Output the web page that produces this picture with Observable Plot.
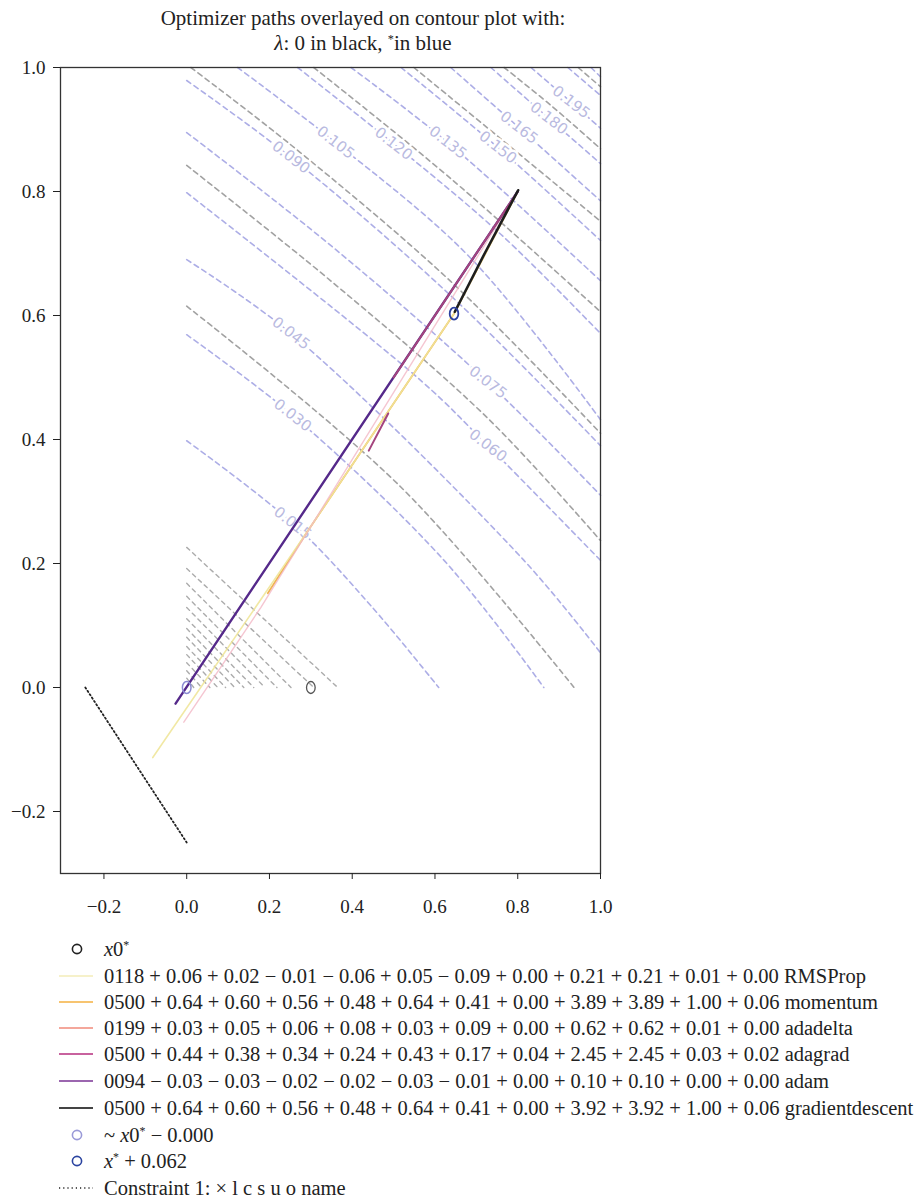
<!DOCTYPE html>
<html>
<head>
<meta charset="utf-8">
<script src="https://cdn.jsdelivr.net/npm/d3@7"></script>
<script src="https://cdn.jsdelivr.net/npm/@observablehq/plot@0.6"></script>
<style>
  body { margin: 0; background: #fff; }
  #wrap { position: relative; width: 924px; height: 1200px; font-family: "Liberation Serif", "DejaVu Serif", serif; color: #222; }
  #title { position: absolute; left: 0; top: 6px; width: 726px; text-align: center; font-size: 21px; line-height: 25px; }
  #chart { position: absolute; left: 0; top: 57px; }
  .row { position: absolute; left: 0; width: 924px; height: 26px; }
  .row svg { position: absolute; left: 0; top: 0; }
  .row span { position: absolute; left: 104px; top: 0; line-height: 26px; font-size: 20.5px; white-space: nowrap; }
  sup { font-size: 58%; vertical-align: 0.55em; line-height: 0; }
</style>
</head>
<body>
<div id="wrap">
  <div id="title">Optimizer paths overlayed on contour plot with:<br><i>λ</i>: 0 in black, <sup>*</sup>in blue</div>
  <div id="chart"></div>
  <div id="legend"></div>
</div>
<script>
// ---- axes ----
const xTicks = [-0.2, 0.0, 0.2, 0.4, 0.6, 0.8, 1.0];
const yTicks = [-0.2, 0.0, 0.2, 0.4, 0.6, 0.8, 1.0];

// ---- blue contours (lambda*) : polyline points ----
const blueLevels = [0.015, 0.030, 0.045, 0.060, 0.075, 0.090, 0.105, 0.120, 0.135, 0.150, 0.165, 0.180, 0.195, 0.210, 0.225];
const bluePaths = [
  [[0, 0.398], [0.256, 0.265], [0.445, 0.132], [0.609, 0]],
  [[0, 0.569], [0.256, 0.439], [0.622, 0.205], [0.863, 0]],
  [[0, 0.690], [0.252, 0.571], [0.815, 0.205], [1.0, 0.056]],
  [[0, 0.798], [0.566, 0.495], [0.728, 0.390], [1.0, 0.205]],
  [[0, 0.895], [0.348, 0.713], [0.728, 0.492], [1.0, 0.310]],
  [[0, 0.979], [0.252, 0.855], [0.638, 0.632], [1.0, 0.390]],
  [[0.123, 1.0], [0.360, 0.879], [0.687, 0.692], [1.0, 0.432]],
  [[0.268, 1.0], [0.500, 0.877], [0.759, 0.731], [1.0, 0.571]],
  [[0.397, 1.0], [0.631, 0.879], [1.0, 0.656]],
  [[0.518, 1.0], [0.752, 0.871], [1.0, 0.721]],
  [[0.638, 1.0], [0.803, 0.903], [1.0, 0.785]],
  [[0.735, 1.0], [0.875, 0.918], [1.0, 0.845]],
  [[0.832, 1.0], [0.929, 0.944], [1.0, 0.902]],
  [[0.921, 1.0], [1.0, 0.955]],
  [[0.977, 1.0], [1.0, 0.985]]
];
// contour labels (level, position)
const labelLevels = ["0.015", "0.030", "0.045", "0.060", "0.075", "0.090", "0.105", "0.120", "0.135", "0.150", "0.165", "0.180", "0.195"];
const labelX = [0.256, 0.256, 0.252, 0.728, 0.728, 0.252, 0.360, 0.500, 0.631, 0.752, 0.803, 0.875, 0.929];
const labelY = [0.265, 0.439, 0.571, 0.390, 0.492, 0.855, 0.879, 0.877, 0.879, 0.871, 0.903, 0.918, 0.944];

// ---- gray contours (lambda = 0) ----
const grayPaths = [
  [[0.010, 1.0], [0.252, 0.875], [0.638, 0.655], [1.0, 0.410]],
  [[0, 0.842], [0.348, 0.656], [0.728, 0.434], [1.0, 0.237]],
  [[0, 0.615], [0.518, 0.323], [0.936, 0]],
  [[0.307, 1.0], [0.638, 0.821], [1.0, 0.606]],
  [[0.549, 1.0], [0.759, 0.885], [1.0, 0.752]],
  [[0.767, 1.0], [0.880, 0.939], [1.0, 0.869]],
  [[0.946, 1.0], [1.0, 0.969]]
];
// dense gray contours near the origin: start on x = 0, end on y = 0
const triStartY = [0.226, 0.192, 0.168, 0.147, 0.129, 0.111, 0.095, 0.081, 0.066, 0.053, 0.040, 0.027, 0.015];
const triEndX   = [0.365, 0.307, 0.252, 0.218, 0.189, 0.162, 0.138, 0.116, 0.094, 0.075, 0.056, 0.036, 0.017];

// ---- optimizer paths ----
const optimizers = ["RMSProp", "momentum", "adadelta", "adagrad", "adam", "gradientdescent"];
const optColors  = ["#f3ecb8", "#f4b040", "#f08a7a", "#c8629e", "#7a3394", "#444444"];
const iterations = ["0118", "0500", "0199", "0500", "0094", "0500"];
const stats = [
  [0.06, 0.02, -0.01, -0.06, 0.05, -0.09, 0.00, 0.21, 0.21, 0.01, 0.00],
  [0.64, 0.60, 0.56, 0.48, 0.64, 0.41, 0.00, 3.89, 3.89, 1.00, 0.06],
  [0.03, 0.05, 0.06, 0.08, 0.03, 0.09, 0.00, 0.62, 0.62, 0.01, 0.00],
  [0.44, 0.38, 0.34, 0.24, 0.43, 0.17, 0.04, 2.45, 2.45, 0.03, 0.02],
  [-0.03, -0.03, -0.02, -0.02, -0.03, -0.01, 0.00, 0.10, 0.10, 0.00, 0.00],
  [0.64, 0.60, 0.56, 0.48, 0.64, 0.41, 0.00, 3.92, 3.92, 1.00, 0.06]
];
const pathRMSProp  = [[0.80, 0.80], [0.646, 0.603], [0.293, 0.253], [-0.082, -0.113]];
const pathMomentum = [[0.80, 0.80], [0.646, 0.603], [0.293, 0.253], [0.196, 0.152]];
const pathAdadelta = [[0.80, 0.80], [0.179, 0.129], [-0.007, -0.056]];
const pathAdagrad  = [[0.80, 0.80], [0.50, 0.50]];
const pathAdagradEnd = [[0.487, 0.442], [0.44, 0.382]];
const pathAdam     = [[0.80, 0.80], [-0.027, -0.026]];
const pathGD       = [[0.801, 0.802], [0.72, 0.70], [0.648, 0.606]];

// ---- points ----
const x0Star = [0.30, 0.0];
const x0Approx = [0.0, 0.0];
const xStar = [0.646, 0.603];
const constraintLine = [[-0.245, 0.0], [0.0, -0.25]];

// ---- build tables ----
const toRows = (paths) => paths.flatMap((p, i) => p.map(([x, y]) => ({x, y, id: i})));
const blueRows = toRows(bluePaths);
const grayRows = toRows(grayPaths);
const triRows = triStartY.flatMap((y0, i) => [{x: 0, y: y0, id: i}, {x: triEndX[i], y: 0, id: i}]);
const labels = labelLevels.map((t, i) => ({t, x: labelX[i], y: labelY[i]}));
const pt = ([x, y]) => ({x, y});

const ellipse = {
  draw(ctx, size) {
    const r = Math.sqrt(size / Math.PI), rx = r * 0.72, ry = r, k = 0.5523;
    ctx.moveTo(rx, 0);
    ctx.bezierCurveTo(rx, ry * k, rx * k, ry, 0, ry);
    ctx.bezierCurveTo(-rx * k, ry, -rx, ry * k, -rx, 0);
    ctx.bezierCurveTo(-rx, -ry * k, -rx * k, -ry, 0, -ry);
    ctx.bezierCurveTo(rx * k, -ry, rx, -ry * k, rx, 0);
    ctx.closePath();
  }
};

const fmt = d3.format(".1f");
const pathLine = (p, color, w, op = 1) => Plot.line(p.map(pt), {x: "x", y: "y", stroke: color, strokeWidth: w, strokeOpacity: op});

const chart = Plot.plot({
  width: 924,
  height: 870,
  marginLeft: 60,
  marginRight: 324,
  marginTop: 10,
  marginBottom: 54,
  style: {fontFamily: "'Liberation Serif', serif", color: "#222", background: "white"},
  x: {domain: [-0.305, 1.0]},
  y: {domain: [-0.3, 1.0]},
  marks: [
    Plot.line(grayRows, {x: "x", y: "y", z: "id", stroke: "#a2a2a2", strokeWidth: 1.6, strokeDasharray: "5,4", curve: "catmull-rom"}),
    Plot.line(triRows, {x: "x", y: "y", z: "id", stroke: "#acacac", strokeWidth: 1.4, strokeDasharray: "4,4"}),
    Plot.line(blueRows, {x: "x", y: "y", z: "id", stroke: "#adaee6", strokeWidth: 1.6, strokeDasharray: "5,4", curve: "catmull-rom"}),
    Plot.text(labels, {x: "x", y: "y", text: "t", rotate: 38, fill: "#b9badf", stroke: "white", strokeWidth: 5, fontSize: 15, fontFamily: "'DejaVu Sans', sans-serif"}),
    Plot.line(constraintLine.map(pt), {x: "x", y: "y", stroke: "#222", strokeWidth: 1.8, strokeDasharray: "1.4,2.6"}),
    pathLine(pathMomentum, "#f0b450", 1.8),
    pathLine(pathRMSProp, "#efe69a", 1.6, 0.9),
    pathLine(pathAdadelta, "#f2b8c6", 1.4, 0.8),
    pathLine(pathAdam, "#55298a", 2.4),
    pathLine(pathAdagrad, "#a5457e", 2.0),
    pathLine(pathAdagradEnd, "#a5457e", 2.0),
    pathLine(pathGD, "#1e1e1e", 2.6),
    Plot.dot([pt(x0Star)], {x: "x", y: "y", r: 6, symbol: ellipse, stroke: "#555", strokeWidth: 1.3, fill: "none"}),
    Plot.dot([pt(x0Approx)], {x: "x", y: "y", r: 6, symbol: ellipse, stroke: "#8b8bd2", strokeWidth: 1.5, fill: "none"}),
    Plot.dot([pt(xStar)], {x: "x", y: "y", r: 6, symbol: ellipse, stroke: "#2b3f9e", strokeWidth: 1.8, fill: "none"}),
    Plot.frame({stroke: "#333", strokeWidth: 1.3}),
    Plot.axisX({ticks: xTicks, tickFormat: fmt, tickSize: 6, tickPadding: 20, fontSize: 19, label: null}),
    Plot.axisY({ticks: yTicks, tickFormat: fmt, tickSize: 7, tickPadding: 8, fontSize: 19, label: null})
  ]
});
document.getElementById("chart").appendChild(chart);

// ---- legend ----
const signed = (v) => (v < 0 ? " − " : " + ") + Math.abs(v).toFixed(2);
const optLabels = optimizers.map((name, i) => iterations[i] + stats[i].map(signed).join("") + " " + name);
const legendItems = [
  {type: "circle", color: "#222", html: "<i>x</i>0<sup>*</sup>"},
  ...optimizers.map((n, i) => ({type: "line", color: optColors[i], width: (i === 3 || i === 5) ? 2.2 : 1.6, html: optLabels[i]})),
  {type: "circle", color: "#9a9ad8", html: "~ <i>x</i>0<sup>*</sup> − 0.000"},
  {type: "circle", color: "#2b44a0", html: "<i>x</i><sup>*</sup> + 0.062"},
  {type: "dots", color: "#222", html: "Constraint 1: × l c s u o name"}
];
const rowCenters = [949, 976, 1002, 1028, 1054, 1081, 1108, 1135, 1161, 1188];
const legend = d3.select("#legend");
legendItems.forEach((item, i) => {
  const row = legend.append("div").attr("class", "row").style("top", (rowCenters[i] - 13) + "px");
  const svg = row.append("svg").attr("width", 100).attr("height", 26);
  if (item.type === "circle") {
    svg.append("circle").attr("cx", 77).attr("cy", 13).attr("r", 4.6).attr("fill", "none").attr("stroke", item.color).attr("stroke-width", 1.6);
  } else if (item.type === "line") {
    svg.append("line").attr("x1", 59).attr("x2", 93).attr("y1", 13).attr("y2", 13).attr("stroke", item.color).attr("stroke-width", item.width);
  } else {
    svg.append("line").attr("x1", 59).attr("x2", 93).attr("y1", 13).attr("y2", 13).attr("stroke", item.color).attr("stroke-width", 1.3).attr("stroke-dasharray", "1.2,3");
  }
  row.append("span").html(item.html);
});
</script>
</body>
</html>
